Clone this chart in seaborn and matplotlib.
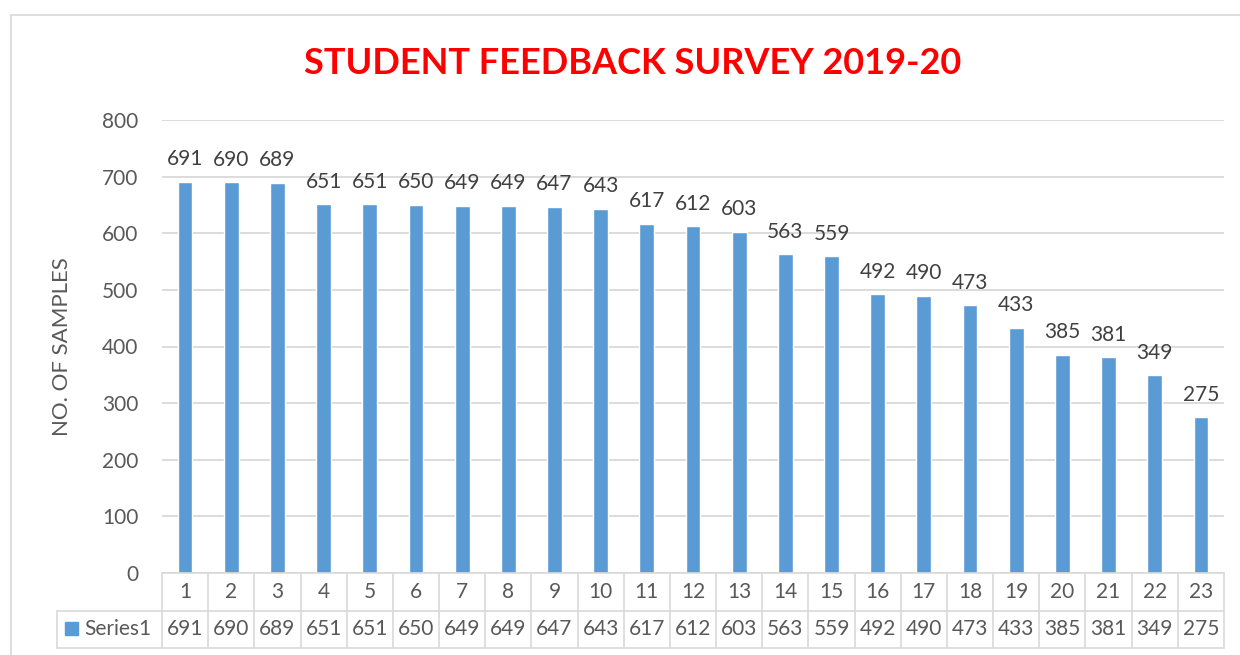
import matplotlib
matplotlib.use("Agg")
import matplotlib.pyplot as plt
import matplotlib.transforms as mtransforms
from matplotlib.lines import Line2D
from matplotlib.patches import Rectangle
import pandas as pd
import seaborn as sns

# data
categories = [str(i) for i in range(1, 24)]
values = [691, 690, 689, 651, 651, 650, 649, 649, 647, 643, 617, 612,
          603, 563, 559, 492, 490, 473, 433, 385, 381, 349, 275]
series_name = "Series1"
title = "STUDENT FEEDBACK SURVEY 2019-20"
ylabel = "NO. OF SAMPLES"
yticks = [0, 100, 200, 300, 400, 500, 600, 700, 800]

bar_color = "#5B9BD5"
text_color = "#595959"
grid_color = "#D9D9D9"

sns.set_theme(style="white")
plt.rcParams["font.family"] = ["Lato", "DejaVu Sans"]

df = pd.DataFrame({"cat": categories, "val": values})

fig = plt.figure(figsize=(12.4, 6.55), dpi=100)
W, H = 1240, 655
ax = fig.add_axes([162 / W, 1 - 573 / H, (1224 - 162) / W, (573 - 120) / H])

sns.barplot(data=df, x="cat", y="val", color=bar_color, width=0.32,
            saturation=1, ax=ax, zorder=3)
ax.set_xlim(-0.5, len(categories) - 0.5)
ax.set_ylim(0, 800)
ax.set_yticks(yticks)
ax.tick_params(axis="y", length=0, pad=17, labelsize=15, labelcolor=text_color)
ax.set_xticks([])
ax.set_xlabel("")
ax.set_ylabel("")
for s in ax.spines.values():
    s.set_visible(False)
ax.yaxis.grid(True, color=grid_color, linewidth=1.3, zorder=0)
ax.set_axisbelow(True)

# value labels
ax.bar_label(ax.containers[0], labels=[str(v) for v in values],
             padding=9, fontsize=15, color="#404040")

# title and axis label
fig.text(0.51, 1 - 64 / H, title, color="#FF0000", fontsize=26,
         fontweight="bold", ha="center", va="center")
fig.text(62 / W, 1 - 347 / H, ylabel, rotation=90, fontsize=16,
         color=text_color, ha="center", va="center")

# data table below the axes
axes_h = 573 - 120
axes_w = 1224 - 162
r1 = -37.5 / axes_h
r2 = -75 / axes_h
left_cell = -(162 - 57) / axes_w
blend = mtransforms.blended_transform_factory(ax.transData, ax.transAxes)
lw = 1.2
ax.add_line(Line2D([0, 1], [0, 0], transform=ax.transAxes, color=grid_color,
                   lw=lw, clip_on=False, zorder=5))
ax.add_line(Line2D([left_cell, 1], [r1, r1], transform=ax.transAxes,
                   color=grid_color, lw=lw, clip_on=False))
ax.add_line(Line2D([left_cell, 1], [r2, r2], transform=ax.transAxes,
                   color=grid_color, lw=lw, clip_on=False))
ax.add_line(Line2D([left_cell, left_cell], [r1, r2], transform=ax.transAxes,
                   color=grid_color, lw=lw, clip_on=False))
for i in range(len(categories) + 1):
    ax.add_line(Line2D([i - 0.5, i - 0.5], [0, r2], transform=blend,
                       color=grid_color, lw=lw, clip_on=False))
for i, (c, v) in enumerate(zip(categories, values)):
    ax.text(i, r1 / 2, c, transform=blend, ha="center", va="center",
            fontsize=15, color=text_color)
    ax.text(i, (r1 + r2) / 2, str(v), transform=blend, ha="center",
            va="center", fontsize=15, color=text_color)

# legend key in table row
fig.patches.append(Rectangle((65 / W, 1 - 635 / H), 13 / W, 13 / H,
                             transform=fig.transFigure, color=bar_color))
fig.text(84 / W, 1 - 629 / H, series_name, fontsize=15, color=text_color,
         ha="left", va="center")

# chart border (cropped)
fig.add_artist(Line2D([11 / W, 1], [1 - 15 / H, 1 - 15 / H], color=grid_color,
                      lw=1.2, transform=fig.transFigure))
fig.add_artist(Line2D([11 / W, 11 / W], [0, 1 - 15 / H], color=grid_color,
                      lw=1.2, transform=fig.transFigure))

fig.savefig("out.png", dpi=100)
